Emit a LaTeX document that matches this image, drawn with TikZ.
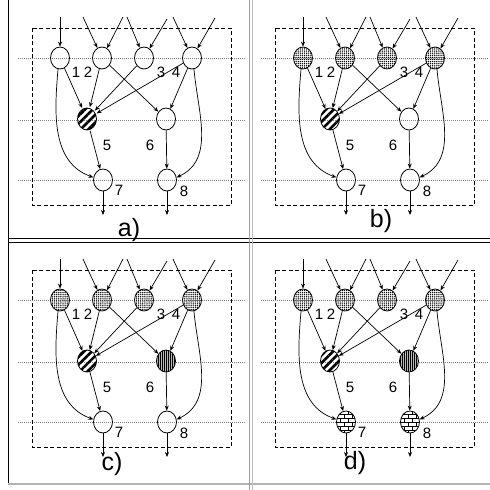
\documentclass[tikz,border=0pt]{standalone}
\usepackage{fontspec}
\setmainfont{Liberation Sans}
\usetikzlibrary{shapes.geometric,arrows.meta,patterns,patterns.meta}
\pgfdeclarepatternformonly{smallbricks}{\pgfpoint{-0.5pt}{-0.5pt}}{\pgfpoint{8.5pt}{8.5pt}}{\pgfpoint{8pt}{8pt}}{%
 \pgfsetlinewidth{0.6pt}%
 \pgfpathmoveto{\pgfpoint{0pt}{0pt}}\pgfpathlineto{\pgfpoint{8pt}{0pt}}%
 \pgfpathmoveto{\pgfpoint{0pt}{4pt}}\pgfpathlineto{\pgfpoint{8pt}{4pt}}%
 \pgfpathmoveto{\pgfpoint{0pt}{0pt}}\pgfpathlineto{\pgfpoint{0pt}{4pt}}%
 \pgfpathmoveto{\pgfpoint{4pt}{4pt}}\pgfpathlineto{\pgfpoint{4pt}{8pt}}%
 \pgfusepath{stroke}}
\tikzset{
 nd/.style={ellipse, draw, line width=0.8pt, inner sep=0pt, minimum width=19pt, minimum height=22pt},
 blank/.style={},
 dotfill/.style={pattern={Dots[distance=2.1pt,radius=0.75pt]}},
 hatchfill/.style={pattern={Lines[angle=45,distance=5.5pt,line width=2.6pt]}},
 vfill/.style={preaction={fill=gray!55}, pattern={Lines[angle=90,distance=2pt,line width=0.7pt]}},
 brickfill/.style={pattern=smallbricks},
 conn/.style={line width=0.7pt, -{Stealth[length=5pt,width=4pt]}},
 guide/.style={gray, line width=0.6pt, dash pattern=on 1pt off 1pt},
 dbox/.style={line width=0.8pt, dash pattern=on 4pt off 2.5pt},
 num/.style={font=\fontsize{15}{15}\selectfont, inner sep=0pt},
 paneltag/.style={font=\fontsize{25}{25}\selectfont, inner sep=0pt},
}
% #1 prefix, #2 xoff, #3 yoff, #4 tag, #5 tag x, #6 tag y, #7 style 1-4, #8 style 6, #9 style 7-8
\newcommand\drawpanel[9]{%
\begin{scope}[shift={(#2,#3)}]
 \draw[guide] (18,58) -- (245,58);
 \draw[guide] (18,120) -- (245,120);
 \draw[guide] (18,180) -- (245,180);
 \draw[dbox] (32,28) rectangle (231,205);
 \node[nd,#7] (#1-1) at (60,58) {};
 \node[nd,#7] (#1-2) at (102,58) {};
 \node[nd,#7] (#1-3) at (144,58) {};
 \node[nd,#7] (#1-4) at (192,58) {};
 \node[nd,hatchfill] (#1-5) at (87,119) {};
 \node[nd,#8] (#1-6) at (166,119) {};
 \node[nd,#9] (#1-7) at (103,180) {};
 \node[nd,#9] (#1-8) at (167,180) {};
 \coordinate (#1-i1) at (60,17);
 \coordinate (#1-i2a) at (83,17);
 \coordinate (#1-i2b) at (123,17);
 \coordinate (#1-i3a) at (127,17);
 \coordinate (#1-i3b) at (167,19);
 \coordinate (#1-i4a) at (173,17);
 \coordinate (#1-i4b) at (215,18);
 \coordinate (#1-o7) at (103,215);
 \coordinate (#1-o8) at (167,215);
 \draw[conn] (#1-i1) -- (#1-1);
 \draw[conn] (#1-i2a) -- (#1-2);
 \draw[conn] (#1-i2b) -- (#1-2);
 \draw[conn] (#1-i3a) -- (#1-3);
 \draw[conn] (#1-i3b) -- (#1-3);
 \draw[conn] (#1-i4a) -- (#1-4);
 \draw[conn] (#1-i4b) -- (#1-4);
 \draw[conn] (#1-1) -- (#1-5);
 \draw[conn] (#1-2) -- (#1-5);
 \draw[conn] (#1-3) -- (#1-5);
 \draw[conn] (#1-4) -- (#1-5);
 \draw[conn] (#1-2) -- (#1-6);
 \draw[conn] (#1-4) -- (#1-6);
 \draw[conn] (#1-5) -- (#1-7);
 \draw[conn] (#1-6) -- (#1-8);
 \draw[conn] (#1-1.-100) to[out=-95,in=160] (#1-7.165);
 \draw[conn] (#1-4.-80) to[out=-85,in=25] (#1-8.15);
 \draw[conn] (#1-7) -- (#1-o7);
 \draw[conn] (#1-8) -- (#1-o8);
 \node[num] (#1-l1) at (76,72) {1};
 \node[num] (#1-l2) at (88,72) {2};
 \node[num] (#1-l3) at (161,72) {3};
 \node[num] (#1-l4) at (176,72) {4};
 \node[num] (#1-l5) at (107,145) {5};
 \node[num] (#1-l6) at (150,145) {6};
 \node[num] (#1-l7) at (119,190) {7};
 \node[num] (#1-l8) at (184,191) {8};
 \node[paneltag] (#1-tag) at (#5,#6) {#4};
\end{scope}}
\begin{document}
\begin{tikzpicture}[x=1pt,y=-1pt]
\useasboundingbox[fill=white] (0,0) rectangle (490,490);
% frames
\draw[line width=1pt] (8,0) -- (8,484);
\draw[line width=1pt] (8,238.5) -- (490,238.5);
\draw[line width=1pt] (8,242.5) -- (490,242.5);
\draw[gray!60, line width=1.5pt] (8,484) -- (490,484);
\draw[gray!75, line width=1.2pt] (249.5,0) -- (249.5,490);
\draw[gray!50, line width=1.5pt] (252.5,0) -- (252.5,490);
\drawpanel{a}{0}{0}{a)}{129}{230}{blank}{blank}{blank}
\drawpanel{b}{243}{0}{b)}{138}{221}{dotfill}{blank}{blank}
\drawpanel{c}{0}{242}{c)}{112}{222}{dotfill}{vfill}{blank}
\drawpanel{d}{243}{242}{d)}{112}{221}{dotfill}{vfill}{brickfill}
\end{tikzpicture}
\end{document}
